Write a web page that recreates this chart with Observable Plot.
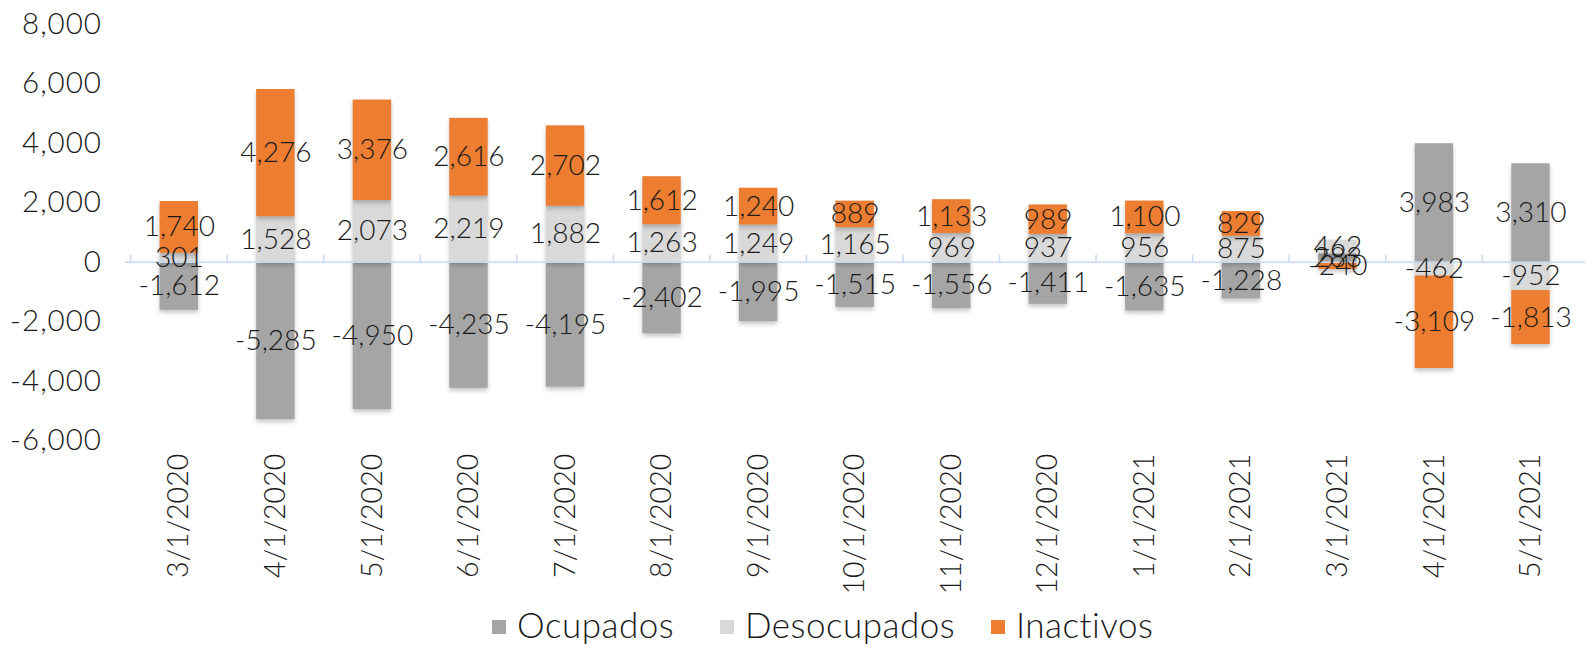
<!DOCTYPE html>
<html><head><meta charset="utf-8">
<script src="https://cdn.jsdelivr.net/npm/d3@7"></script>
<script src="https://cdn.jsdelivr.net/npm/@observablehq/plot@0.6"></script>
<style>
html,body{margin:0;padding:0;background:#fff;overflow:hidden;width:1596px;height:651px;position:relative}
#chart{position:absolute;left:0;top:0}
#chart svg g[aria-label='y-axis tick label'] text{letter-spacing:1px}
.legend{position:absolute;top:598px;left:0;width:1596px;height:52px;font-family:Lato;font-weight:300;font-size:35px;color:#1a1a1a}
.item{position:absolute;top:0;display:flex;align-items:center;height:52px;white-space:nowrap;letter-spacing:0.5px}
.sw{width:14px;height:14px;margin-right:11px;margin-top:6px}
</style></head><body>
<div id="chart"></div>
<div class="legend" id="legend"></div>
<script>
const categories = ["3/1/2020","4/1/2020","5/1/2020","6/1/2020","7/1/2020","8/1/2020","9/1/2020","10/1/2020","11/1/2020","12/1/2020","1/1/2021","2/1/2021","3/1/2021","4/1/2021","5/1/2021"];
const ocupados    = [-1612,-5285,-4950,-4235,-4195,-2402,-1995,-1515,-1556,-1411,-1635,-1228, 283, 3983, 3310];
const desocupados = [  301, 1528, 2073, 2219, 1882, 1263, 1249, 1165,  969,  937,  956,  875, 462, -462, -952];
const inactivos   = [ 1740, 4276, 3376, 2616, 2702, 1612, 1240,  889, 1133,  989, 1100,  829,-240,-3109,-1813];
const series = ["Ocupados","Desocupados","Inactivos"];
const colors = ["#a5a5a5","#d9d9d9","#ed7d31"];
const yTicks = [-6000,-4000,-2000,0,2000,4000,6000,8000];

const values = [ocupados, desocupados, inactivos];
const rows = [];
categories.forEach((c,i) => series.forEach((s,j) => rows.push({date:c, series:s, value:values[j][i]})));
const fmt = d => d.toLocaleString("en-US");
const step = (1609 - 127) / categories.length;

const chart = Plot.plot({
  width: 1620, height: 620,
  marginLeft: 127, marginRight: 11, marginTop: 24, marginBottom: 173,
  style: {fontFamily: "Lato", fontWeight: 300, background: "transparent", color: "#1a1a1a"},
  x: {domain: categories, paddingInner: 0.6, paddingOuter: 0.3},
  y: {domain: [-6000, 8000]},
  color: {domain: series, range: colors},
  marks: [
    Plot.barY(rows, {x: "date", y: "value", fill: "series", z: "series"}),
    Plot.ruleY([0], {stroke: "#c6d9f1", strokeWidth: 1.5}),
    Plot.ruleX(categories, {x: d => d, y1: 0, y2: 235, stroke: "#c6d9f1", strokeWidth: 1.5, dx: -step/2}),
    Plot.text(rows, Plot.stackY({x: "date", y: "value", z: "series", text: d => fmt(d.value), fontSize: 28.5, fill: "#1a1a1a"})),
    Plot.axisY({ticks: yTicks, tickFormat: fmt, tickSize: 0, tickPadding: 24, fontSize: 30, label: null}),
    Plot.axisX({tickRotate: -90, tickSize: 0, tickPadding: 13, fontSize: 29, label: null})
  ]
});
chart.querySelectorAll("g[aria-label='bar'] rect").forEach(r => r.style.filter = "drop-shadow(0px 3px 2px rgba(0,0,0,0.22))");
document.getElementById("chart").append(chart);

const legendX = [492, 720, 991];
const lg = document.getElementById("legend");
series.forEach((s,i) => {
  const it = document.createElement("div");
  it.className = "item";
  it.style.left = legendX[i] + "px";
  it.innerHTML = `<span class="sw" style="background:${colors[i]}"></span><span>${s}</span>`;
  lg.append(it);
});
</script>
</body></html>
